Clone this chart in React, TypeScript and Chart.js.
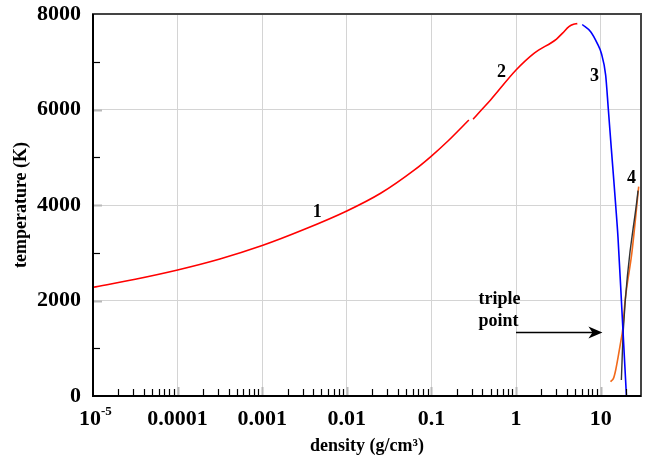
import React, { useEffect, useRef } from "react";
import { Chart, registerables } from "chart.js";

Chart.register(...registerables);

const SERIF = '"Liberation Serif", "Times New Roman", serif';

// Branch 1 (red): density g/cm³, temperature K
const branch1Density = [1e-5, 3.16e-5, 1e-4, 3.16e-4, 1e-3, 3.16e-3, 0.01, 0.0251, 0.0631, 0.1, 0.158, 0.277];
const branch1Temp = [2276, 2445, 2639, 2869, 3150, 3490, 3874, 4245, 4735, 5025, 5345, 5780];

// Branch 2 (red)
const branch2Density = [0.311, 0.38, 0.5, 1.0, 1.63, 3.01, 3.55, 4.22, 4.79, 5.3];
const branch2Temp = [5795, 5969, 6200, 6827, 7176, 7476, 7600, 7735, 7785, 7798];

// Branch 3 (blue)
const branch3Density = [6.07, 7.62, 9.12, 10.19, 11.46, 12.33, 13.37, 14.35, 15.03, 16.03, 17.78, 20.18];
const branch3Temp = [7780, 7630, 7385, 7177, 6722, 6004, 5187, 4487, 4015, 3330, 1849, 0];

// Branch 4 (orange)
const branch4Density = [13.12, 14.26, 15.07, 16.11, 17.26, 18.2, 19.5, 23.4, 28.18];
const branch4Temp = [300, 380, 545, 820, 1130, 1382, 2010, 3000, 4384];

// Dark line under branch 4
const meltDensity = [17.58, 18.54, 27.67];
const meltTemp = [335, 1382, 4300];

// Axis ticks
const xTickValues = [1e-5, 1e-4, 1e-3, 1e-2, 1e-1, 1, 10];
const xTickLabels = ["", "0.0001", "0.001", "0.01", "0.1", "1", "10"];
const yTickValues = [0, 2000, 4000, 6000, 8000];

// Branch number labels
const branchLabels = ["1", "2", "3", "4"];
const branchLabelDensity = [0.00448, 0.673, 8.49, 23.1];
const branchLabelTemp = [3853, 6785, 6702, 4565];

// Triple point annotation
const tripleLines = ["triple", "point"];
const tripleTextDensity = 0.36;
const tripleTextTemp = [2031, 1571];
const tripleArrowDensity = [1.0, 10.5];
const tripleArrowTemp = 1340;

const toPoints = (xs: number[], ys: number[]) => xs.map((x, i) => ({ x, y: ys[i] }));

const decorPlugin = {
  id: "decor",
  afterDatasetsDraw(chart: any) {
    const { ctx, chartArea: a, scales } = chart;
    const x = scales.x;
    const y = scales.y;
    ctx.save();

    // y ticks (inside)
    for (let v = 1000; v < 8000; v += 1000) {
      const py = Math.round(y.getPixelForValue(v)) + 0.5;
      const major = v % 2000 === 0;
      ctx.strokeStyle = major ? "#b8b8b8" : "#000";
      ctx.lineWidth = major ? 2 : 1.2;
      ctx.beginPath();
      ctx.moveTo(a.left, py);
      ctx.lineTo(a.left + (major ? 9 : 7), py);
      ctx.stroke();
    }
    // x ticks (inside)
    for (let e = -5; e <= 1; e++) {
      for (let m = 1; m <= 9; m++) {
        const v = m * Math.pow(10, e);
        if (v > 25) break;
        if (e === -5 && m === 1) continue;
        const px = Math.round(x.getPixelForValue(v)) + 0.5;
        const major = m === 1;
        ctx.strokeStyle = major ? "#b8b8b8" : "#000";
        ctx.lineWidth = major ? 2 : 1.2;
        ctx.beginPath();
        ctx.moveTo(px, a.bottom);
        ctx.lineTo(px, a.bottom - (major ? 9 : 7));
        ctx.stroke();
      }
    }

    // frame
    ctx.strokeStyle = "#444";
    ctx.lineWidth = 2;
    ctx.strokeRect(a.left, a.top, a.right - a.left, a.bottom - a.top);
    ctx.strokeStyle = "#000";
    ctx.beginPath();
    ctx.moveTo(a.left, a.top);
    ctx.lineTo(a.left, a.bottom);
    ctx.lineTo(a.right, a.bottom);
    ctx.stroke();

    // branch labels
    ctx.fillStyle = "#000";
    ctx.font = `bold 18px ${SERIF}`;
    ctx.textAlign = "center";
    ctx.textBaseline = "middle";
    branchLabels.forEach((t, i) => {
      ctx.fillText(t, x.getPixelForValue(branchLabelDensity[i]), y.getPixelForValue(branchLabelTemp[i]));
    });

    // triple point text
    ctx.textAlign = "left";
    tripleLines.forEach((t, i) => {
      ctx.fillText(t, x.getPixelForValue(tripleTextDensity), y.getPixelForValue(tripleTextTemp[i]));
    });

    // arrow
    const ax0 = x.getPixelForValue(tripleArrowDensity[0]);
    const ax1 = x.getPixelForValue(tripleArrowDensity[1]);
    const ay = Math.round(y.getPixelForValue(tripleArrowTemp)) + 0.5;
    ctx.strokeStyle = "#000";
    ctx.lineWidth = 1.5;
    ctx.beginPath();
    ctx.moveTo(ax0, ay);
    ctx.lineTo(ax1 - 6, ay);
    ctx.stroke();
    ctx.beginPath();
    ctx.moveTo(ax1, ay);
    ctx.lineTo(ax1 - 14, ay - 6);
    ctx.lineTo(ax1 - 10, ay);
    ctx.lineTo(ax1 - 14, ay + 6);
    ctx.closePath();
    ctx.fill();

    // 10^-5 label
    const lx = x.getPixelForValue(1e-5);
    const ly = a.bottom + 10 + 13.2;
    ctx.font = `bold 22px ${SERIF}`;
    ctx.textAlign = "right";
    ctx.fillText("10", lx + 8, ly);
    ctx.font = `bold 13px ${SERIF}`;
    ctx.textAlign = "left";
    ctx.fillText("-5", lx + 8, ly - 8);

    ctx.restore();
  },
};

export default function App() {
  const ref = useRef<HTMLCanvasElement>(null);
  useEffect(() => {
    const canvas = ref.current!;
    const lineDs = (data: any, color: string, width = 1.6) => ({
      data,
      borderColor: color,
      backgroundColor: color,
      borderWidth: width,
      pointRadius: 0,
      fill: false,
      cubicInterpolationMode: "monotone" as const,
    });
    const chart = new Chart(canvas, {
      type: "line",
      data: {
        datasets: [
          lineDs(toPoints(branch1Density, branch1Temp), "#ff0000"),
          lineDs(toPoints(branch2Density, branch2Temp), "#ff0000"),
          lineDs(toPoints(branch3Density, branch3Temp), "#0000ff"),
          lineDs(toPoints(meltDensity, meltTemp), "#333333", 1.4),
          lineDs(toPoints(branch4Density, branch4Temp), "#f26a1b"),
        ],
      },
      options: {
        animation: false,
        responsive: false,
        devicePixelRatio: 1,
        parsing: false,
        layout: { padding: { top: 14, right: 10, left: 0, bottom: 0 } },
        plugins: { legend: { display: false }, tooltip: { enabled: false } },
        scales: {
          x: {
            type: "logarithmic",
            min: 1e-5,
            max: 30,
            afterBuildTicks: (s: any) => {
              s.ticks = xTickValues.map((v) => ({ value: v, major: false }));
            },
            afterFit: (s: any) => {
              s.height = 67;
              s.paddingLeft = 0;
              s.paddingRight = 0;
            },
            grid: {
              drawTicks: false,
              color: (c: any) => (c.index === 0 ? "rgba(0,0,0,0)" : "#d4d4d4"),
              lineWidth: 1,
            },
            border: { display: false },
            ticks: {
              autoSkip: false,
              maxRotation: 0,
              padding: 10,
              color: "#000",
              font: { family: SERIF, size: 22, weight: "bold" },
              callback: (v: any) => {
                const i = xTickValues.findIndex((t) => Math.abs(t - Number(v)) / t < 1e-6);
                return i >= 0 ? xTickLabels[i] : "";
              },
            },
            title: {
              display: true,
              text: "density (g/cm³)",
              color: "#000",
              font: { family: SERIF, size: 18, weight: "bold" },
              padding: { top: 0, bottom: 6 },
            },
          },
          y: {
            type: "linear",
            min: 0,
            max: 8000,
            afterBuildTicks: (s: any) => {
              s.ticks = yTickValues.map((v) => ({ value: v }));
            },
            afterFit: (s: any) => {
              s.width = 93;
              s.paddingTop = 0;
              s.paddingBottom = 0;
            },
            grid: {
              drawTicks: false,
              color: (c: any) =>
                c.tick && (c.tick.value === 0 || c.tick.value === 8000) ? "rgba(0,0,0,0)" : "#d4d4d4",
              lineWidth: 1,
            },
            border: { display: false },
            ticks: {
              padding: 12,
              color: "#000",
              font: { family: SERIF, size: 22, weight: "bold" },
              callback: (v: any) => String(v),
            },
            title: {
              display: true,
              text: "temperature (K)",
              color: "#000",
              font: { family: SERIF, size: 18, weight: "bold" },
              padding: { top: 11, bottom: 0 },
            },
          },
        },
      },
      plugins: [decorPlugin],
    });
    return () => chart.destroy();
  }, []);
  return (
    <div style={{ position: "fixed", left: 0, top: 0, width: 651, height: 463, background: "#fff" }}>
      <canvas ref={ref} width={651} height={463} style={{ display: "block", width: 651, height: 463 }} />
    </div>
  );
}
